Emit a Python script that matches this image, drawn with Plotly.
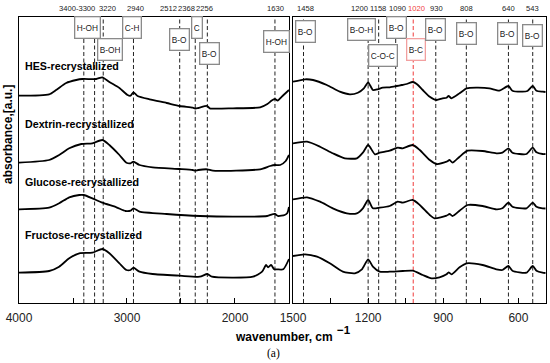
import plotly.graph_objects as go

# ---------------- data (wavenumber cm^-1, stacked absorbance a.u.) ----------------
hes_left_wn = [4000, 3721, 3656, 3563, 3470, 3414, 3284, 3228, 3163, 3070, 2995, 2967, 2940, 2902, 2791, 2633,
               2512, 2391, 2368, 2340, 2256, 2233, 2019, 1767, 1700, 1660, 1630, 1605, 1560, 1530, 1500]
hes_left_abs = [208.3, 209.7, 214, 221, 224, 225, 225, 226.7, 222, 216, 209, 208.3, 211.7, 208, 204.7, 201,
                198, 196.3, 195.5, 196, 198, 195.7, 195.7, 196.7, 200, 203.5, 205, 203.5, 208, 211, 214]
hes_right_wn = [1500, 1452, 1420, 1365, 1313, 1273, 1241, 1217, 1200, 1181, 1162, 1142, 1114, 1086, 1066, 1046,
                1022, 1006, 982, 954, 927, 903, 887, 879, 867, 835, 807, 767, 716, 676, 640, 624, 584, 564,
                543, 528, 504, 492]
hes_right_abs = [222.3, 224.7, 224, 219, 212.3, 209.7, 211.3, 215.7, 221.7, 214, 214.7, 216.3, 216.7, 218, 219,
                 220, 222, 220, 214, 207.3, 204, 205.7, 206.3, 208, 205.7, 210.7, 215.7, 216.3, 215.7, 213.3,
                 218, 213.3, 212.3, 213, 218, 213.3, 212.3, 212]

dextrin_left_wn = [4000, 3721, 3628, 3535, 3423, 3321, 3228, 3163, 3070, 3005, 2967, 2940, 2884, 2763, 2512,
                   2391, 2368, 2340, 2256, 2205, 1767, 1674, 1630, 1581, 1530, 1500]
dextrin_left_abs = [141.3, 144, 149, 155.7, 160, 160.7, 164, 159, 149, 141.3, 140.7, 142.3, 139, 136.7, 135,
                    134, 133.3, 134, 134.7, 133.3, 134.7, 138, 139, 139, 143, 149]
dextrin_right_wn = [1500, 1444, 1392, 1341, 1293, 1245, 1221, 1200, 1173, 1154, 1114, 1082, 1062, 1022, 994,
                    954, 927, 887, 875, 863, 835, 803, 743, 688, 664, 640, 624, 568, 543, 528, 504, 492]
dextrin_right_abs = [160.7, 162.3, 157.3, 150.7, 145.7, 145.7, 151.3, 159, 149.7, 151.3, 153.3, 156.3, 155.7,
                     159, 154, 144, 140, 142.3, 144, 141.3, 147.3, 153.3, 153, 150.7, 151.3, 155.7, 151.3, 150,
                     156.3, 151.7, 150, 150]

glucose_left_wn = [4000, 3721, 3628, 3535, 3442, 3400, 3321, 3228, 3098, 3014, 2967, 2940, 2884, 2633, 2326,
                   2019, 1702, 1656, 1630, 1600, 1540, 1515, 1500]
glucose_left_abs = [94.7, 96.3, 100.7, 106.7, 109, 109, 105.7, 101.3, 96.7, 93, 93.3, 95.7, 92.3, 90, 88,
                    87.3, 88, 89.7, 90, 88, 89, 91, 97]
glucose_right_wn = [1500, 1444, 1392, 1341, 1285, 1245, 1221, 1200, 1181, 1154, 1114, 1082, 1062, 1022, 994,
                    954, 935, 887, 875, 863, 835, 803, 743, 688, 664, 640, 624, 568, 543, 528, 504, 492]
glucose_right_abs = [104.7, 106.7, 102.3, 95.7, 90.7, 90.7, 95.7, 104, 95.7, 96.3, 98, 102.3, 101.3, 104, 99,
                     89, 85.7, 88.3, 90, 88, 93.3, 99, 98, 94.7, 95.7, 101.3, 97.3, 95.7, 101.3, 97.3, 95.7,
                     95.5]

fructose_left_wn = [4000, 3721, 3628, 3535, 3442, 3321, 3228, 3163, 3070, 3005, 2967, 2940, 2884, 2763, 2512,
                    2326, 2256, 2214, 1833, 1749, 1712, 1693, 1665, 1637, 1609, 1553, 1500]
fructose_left_abs = [31.3, 33, 37.3, 45.7, 50.7, 51.3, 55, 50.7, 40.7, 34, 34, 36.3, 32.3, 30, 28.3,
                     27.3, 30, 27.3, 27.3, 32.3, 39, 36.7, 39, 34.7, 34.7, 34.7, 45]
fructose_right_wn = [1500, 1452, 1404, 1353, 1301, 1253, 1225, 1200, 1181, 1154, 1114, 1062, 1022, 982, 947,
                     915, 887, 879, 867, 835, 807, 743, 688, 664, 640, 624, 568, 543, 528, 504, 492]
fructose_right_abs = [48, 49.7, 47.3, 40.7, 32.3, 30.7, 34.7, 44.7, 37.3, 32.3, 32.3, 33, 33.3, 29, 25.7,
                      26.7, 29.7, 31.7, 29.7, 36.7, 40.7, 39, 34.7, 34, 38, 33.3, 31.3, 38, 33.3, 31.3, 31]

series_names = ["HES-recrystallized", "Dextrin-recrystallized", "Glucose-recrystallized", "Fructose-recrystallized"]

# peak markers (vertical dashed lines) and their labels
left_peaks = [3400, 3300, 3220, 2940, 2512, 2368, 2256, 1630]
right_peaks = [1458, 1200, 1158, 1090, 1020, 930, 808, 640, 543]
left_peak_labels = ["3400-3300", "3220", "2940", "2512", "2368", "2256", "1630"]
right_peak_labels = ["1458", "1200", "1158", "1090", "1020", "930", "808", "640", "543"]
left_band_labels = ["H-OH", "B-OH", "C-H", "B-O", "C", "B-O", "H-OH"]
right_band_labels = ["B-O", "B-O-H", "C-O-C", "B-O", "B-C", "B-O", "B-O", "B-O", "B-O"]
highlight_peak = 1020

# ---------------- layout helpers (positions) ----------------
left_label_x = [3461, 3182, 2922, 2615, 2448, 2281, 1621]
right_label_x = [1452, 1233, 1160, 1084, 1006, 927, 807, 640, 544]
left_box_pos = [(3368, 0.962), (3154, 0.885), (2950, 0.962), (2513, 0.923), (2355, 0.962), (2234, 0.874), (1611, 0.916)]
right_box_pos = [(1452, 0.948), (1225, 0.955), (1142, 0.867), (1086, 0.962), (1010, 0.888), (931, 0.955),
                 (807, 0.941), (644, 0.944), (544, 0.937)]
name_y = [0.829, 0.626, 0.424, 0.238]

FONT = "Liberation Sans, Arial, sans-serif"
RED = "#f03c3c"

fig = go.Figure()
lw = 1.8
left_sets = [(hes_left_wn, hes_left_abs), (dextrin_left_wn, dextrin_left_abs),
             (glucose_left_wn, glucose_left_abs), (fructose_left_wn, fructose_left_abs)]
right_sets = [(hes_right_wn, hes_right_abs), (dextrin_right_wn, dextrin_right_abs),
              (glucose_right_wn, glucose_right_abs), (fructose_right_wn, fructose_right_abs)]
for name, (lx, ly), (rx, ry) in zip(series_names, left_sets, right_sets):
    fig.add_trace(go.Scatter(x=lx, y=ly, mode="lines", name=name, showlegend=False,
                             line=dict(color="black", width=lw, shape="spline", smoothing=0.6),
                             xaxis="x", yaxis="y"))
    fig.add_trace(go.Scatter(x=rx, y=ry, mode="lines", name=name, showlegend=False,
                             line=dict(color="black", width=lw, shape="spline", smoothing=0.6),
                             xaxis="x2", yaxis="y2"))

shapes = []
for p in left_peaks:
    shapes.append(dict(type="line", xref="x", yref="paper", x0=p, x1=p, y0=0, y1=1,
                       line=dict(color="#222222", width=1, dash="4px,2.5px"), layer="below"))
for p in right_peaks:
    c = RED if p == highlight_peak else "#222222"
    shapes.append(dict(type="line", xref="x2", yref="paper", x0=p, x1=p, y0=0, y1=1,
                       line=dict(color=c, width=1, dash="4px,2.5px"), layer="below"))

C = dict(xanchor="center", yanchor="middle", showarrow=False)
ann = []
for t, x in zip(left_peak_labels, left_label_x):
    ann.append(dict(text=t, x=x, xref="x", y=1.028, yref="paper", **C,
                    font=dict(family=FONT, size=7.6, color="#222")))
for t, x, p in zip(right_peak_labels, right_label_x, right_peaks):
    ann.append(dict(text=t, x=x, xref="x2", y=1.028, yref="paper", **C,
                    font=dict(family=FONT, size=7.6, color=RED if p == highlight_peak else "#222")))
for t, (x, y) in zip(left_band_labels, left_box_pos):
    ann.append(dict(text=t, x=x, xref="x", y=y, yref="paper", **C, height=17.5,
                    bgcolor="white", bordercolor="#8a8a8a", borderwidth=1.3, borderpad=1.5,
                    font=dict(family=FONT, size=8.3, color="#222")))
for t, (x, y), p in zip(right_band_labels, right_box_pos, right_peaks):
    ann.append(dict(text=t, x=x, xref="x2", y=y, yref="paper", **C, height=17.5,
                    bgcolor="white", bordercolor="#f2a0a0" if p == highlight_peak else "#8a8a8a",
                    borderwidth=1.3, borderpad=1.5,
                    font=dict(family=FONT, size=8.3, color="#222")))
for t, y in zip(series_names, name_y):
    ann.append(dict(text="<b>" + t + "</b>", x=0.008, xref="paper", y=y, yref="paper", showarrow=False,
                    xanchor="left", yanchor="middle", font=dict(family=FONT, size=10.7, color="black")))

ann.append(dict(text="<b>absorbance,[a.u.]</b>", x=-0.0209, xref="paper", y=0.591, yref="paper",
                **C, textangle=-90, font=dict(family=FONT, size=12, color="black")))
ann.append(dict(text="<b>wavenumber, cm</b>", x=0.503, xref="paper", y=-0.119, yref="paper",
                **C, font=dict(family=FONT, size=12, color="black")))
ann.append(dict(text="<b>\u22121</b>", x=0.617, xref="paper", y=-0.094, yref="paper",
                **C, font=dict(family=FONT, size=11.5, color="black")))
ann.append(dict(text="(a)", x=0.482, xref="paper", y=-0.175, yref="paper",
                **C, font=dict(family="Liberation Serif, Times New Roman, serif", size=11.5, color="black")))

axis_common = dict(showline=True, linecolor="black", linewidth=1.3, mirror=True, showgrid=False,
                   zeroline=False)
fig.update_layout(
    width=550, height=363,
    margin=dict(l=19, r=4, t=17, b=60),
    paper_bgcolor="white", plot_bgcolor="white",
    xaxis=dict(domain=[0, 0.5123], range=[4000, 1500], tick0=0, dtick=1000, ticks="inside", ticklen=5,
               tickwidth=1, tickcolor="black", ticklabelstandoff=3,
               minor=dict(dtick=500, ticks="inside", ticklen=5, tickwidth=1, tickcolor="black"),
               tickfont=dict(family=FONT, size=12, color="#222"), anchor="y", **axis_common),
    yaxis=dict(domain=[0, 1], range=[1, 287], showticklabels=False, ticks="", anchor="x", **axis_common),
    xaxis2=dict(domain=[0.5199, 1], range=[1500, 490], tick0=0, dtick=300, ticks="inside", ticklen=5,
                tickwidth=1, tickcolor="black", ticklabelstandoff=3,
                minor=dict(dtick=150, ticks="inside", ticklen=5, tickwidth=1, tickcolor="black"),
                tickfont=dict(family=FONT, size=12, color="#222"), anchor="y2", **axis_common),
    yaxis2=dict(domain=[0, 1], range=[1, 287], showticklabels=False, ticks="", anchor="x2", **axis_common),
    shapes=shapes,
    annotations=ann,
    showlegend=False,
)

fig.write_html("out.html", config={"displayModeBar": False},
               post_script="document.body.style.margin='0px';document.body.style.overflow='hidden';")
